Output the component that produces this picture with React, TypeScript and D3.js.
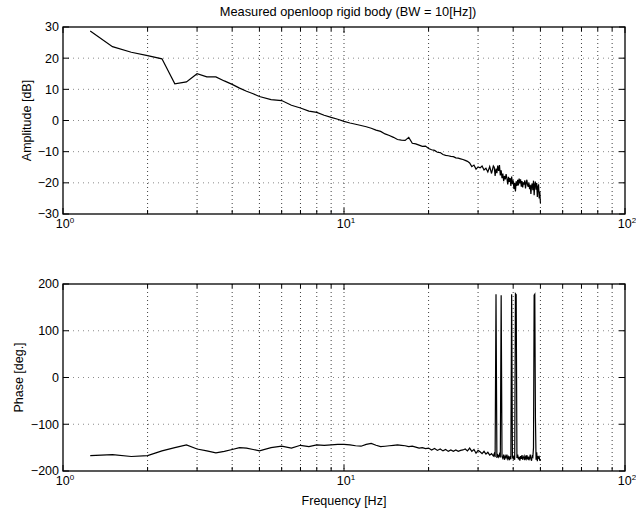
import React from 'react';
import * as d3 from 'd3';

const freqHz = [
  1.25, 1.5, 1.75, 2, 2.25, 2.5, 2.75, 3, 3.25, 3.5, 3.75, 4, 4.25, 4.5, 4.75, 5,
  5.5, 6, 6.5, 7, 7.5, 8, 8.5, 9, 9.5, 10,
  10.5, 11, 11.5, 12, 12.5, 13, 13.5, 14, 14.5, 15,
  15.5, 16, 16.5, 17, 17.5, 18, 18.5, 19, 19.5, 20,
  20.5, 21, 21.5, 22, 22.5, 23, 23.5, 24, 24.5, 25,
  25.5, 26, 26.5, 27, 27.5, 28, 28.5, 29, 29.5, 30,
  30.5, 31, 31.5, 32, 32.5, 33, 33.5, 34,
  34.25, 34.5, 34.75, 35, 35.25, 35.5, 35.75, 36, 36.25, 36.5, 36.75, 37,
  37.25, 37.5, 37.75, 38, 38.25, 38.5, 38.75, 39, 39.25, 39.5, 39.75, 40,
  40.25, 40.5, 40.75, 41, 41.25, 41.5, 41.75, 42, 42.25, 42.5, 42.75, 43,
  43.25, 43.5, 43.75, 44, 44.25, 44.5, 44.75, 45, 45.25, 45.5, 45.75, 46,
  46.25, 46.5, 46.75, 47, 47.25, 47.5, 47.75, 48, 48.25, 48.5, 48.75, 49,
  49.25, 49.5, 49.75, 50,
];

const amplitudeDb = [
  28.7, 23.7, 21.9, 20.8, 19.8, 11.8, 12.4, 15.0, 14.0, 14.0, 12.7, 11.6, 10.4, 9.4, 8.6, 7.7,
  6.7, 6.4, 4.9, 4.0, 3.0, 2.6, 1.7, 1.0, 0.4, -0.3,
  -0.8, -1.2, -1.6, -2.0, -2.5, -3.1, -3.5, -4.3, -4.8, -5.4,
  -6.1, -6.3, -6.4, -5.4, -7.3, -7.5, -7.9, -8.3, -8.2, -9.0,
  -9.4, -9.6, -10.2, -10.3, -10.9, -11.2, -11.3, -11.5, -11.6, -12.0,
  -12.1, -12.3, -12.5, -12.8, -13.1, -13.6, -14.8, -14.3, -15.6, -14.9,
  -15.2, -14.6, -15.9, -15.3, -16.5, -14.8, -17.0, -14.6,
  -15.0, -17.8, -15.4, -16.9, -14.5, -16.2, -14.3, -17.6, -16.0, -18.5, -17.0, -19.5,
  -17.8, -18.9, -17.2, -18.6, -20.5, -18.1, -19.7, -18.5, -21.0, -18.0, -20.4, -19.2,
  -22.0, -20.0, -22.8, -19.5, -21.0, -19.0, -20.8, -18.6, -20.2, -18.9, -21.2, -19.4,
  -21.5, -19.8, -20.6, -19.2, -21.8, -20.0, -19.0, -20.7, -21.3, -19.9, -22.0, -20.6,
  -23.6, -21.0, -20.2, -22.4, -19.3, -24.0, -20.5, -19.6, -22.2, -20.1, -24.5, -21.4,
  -20.5, -25.0, -22.8, -26.5,
];

const phaseDeg = [
  -167, -165, -169, -167, -157, -150, -144, -153, -157, -161, -158, -154, -150, -151, -154, -157,
  -150, -147, -151, -145, -148, -144, -145, -144, -143, -143,
  -144, -146, -147, -143, -141, -145, -148, -147, -146, -145,
  -144, -145, -146, -148, -147, -149, -151, -150, -152, -151,
  -155, -152, -156, -153, -157, -154, -158, -155, -158, -155,
  -158, -156, -155, -153, -157, -151, -158, -154, -162, -156,
  -159, -163, -158, -164, -160, -166, -163, -168,
  -163, -170, 178, -172, -166, -170, -164, -171, 176, -169, -173, -165,
  -176, -168, -172, -165, -174, -170, -177, -168, -175, 178, -170, -174,
  -167, -176, 179, 177, -172, -165, -175, -170, -178, -168, -174, -166,
  -176, -171, -168, -177, -170, -174, -166, -175, -169, -177, -172, -165,
  -174, -178, -168, -170, -150, 176, 178, -85, -176, -160, -179, -168,
  -172, -170, -178, -174,
];

const ampTicks = [-30, -20, -10, 0, 10, 20, 30];
const phaseTicks = [-200, -100, 0, 100, 200];
const decadeTicks = [1, 10, 100];
const decadeExp = ['0', '1', '2'];

const titleText = 'Measured openloop rigid body (BW = 10[Hz])';
const ampLabel = 'Amplitude [dB]';
const phaseLabel = 'Phase [deg.]';
const xLabel = 'Frequency [Hz]';

const W = 636;
const H = 512;
const LEFT = 63;
const RIGHT = 625;
const FONT = "'Liberation Sans', Arial, Helvetica, sans-serif";

const fmt = (v: number) => (v < 0 ? '\u2212' + Math.abs(v) : String(v));

function Panel({ top, bottom, domain, ticks, values, label, labelX, idp }: {
  top: number; bottom: number; domain: [number, number]; ticks: number[];
  values: number[]; label: string; labelX: number; idp: string;
}) {
  const x = d3.scaleLog().domain([1, 100]).range([LEFT, RIGHT]);
  const y = d3.scaleLinear().domain(domain).range([bottom, top]);
  const pts = freqHz.map((f, i) => [f, values[i]] as [number, number]);
  const line = d3.line<[number, number]>().x((d) => x(d[0])).y((d) => y(d[1]));
  const minor = x.ticks();
  return (
    <g>
      <defs>
        <clipPath id={idp}>
          <rect x={LEFT} y={top} width={RIGHT - LEFT} height={bottom - top} />
        </clipPath>
      </defs>
      {minor.filter((t) => t > 1 && t < 100).map((t) => (
        <line key={'vg' + t} x1={x(t)} x2={x(t)} y1={top} y2={bottom}
          stroke="#000" strokeWidth={1} strokeDasharray="1,3" opacity={0.75} />
      ))}
      {ticks.filter((t) => t > domain[0] && t < domain[1]).map((t) => (
        <line key={'hg' + t} x1={LEFT} x2={RIGHT} y1={y(t)} y2={y(t)}
          stroke="#000" strokeWidth={1} strokeDasharray="1,4" opacity={0.45} />
      ))}
      {minor.map((t) => {
        const len = decadeTicks.includes(t) ? 6 : 4;
        return (
          <g key={'xt' + t}>
            <line x1={x(t)} x2={x(t)} y1={bottom} y2={bottom - len} stroke="#000" />
            <line x1={x(t)} x2={x(t)} y1={top} y2={top + len} stroke="#000" />
          </g>
        );
      })}
      {ticks.map((t) => (
        <g key={'yt' + t}>
          <line x1={LEFT} x2={LEFT + 6} y1={y(t)} y2={y(t)} stroke="#000" />
          <line x1={RIGHT} x2={RIGHT - 6} y1={y(t)} y2={y(t)} stroke="#000" />
          <text x={LEFT - 4} y={y(t)} dy="0.35em" textAnchor="end" fontSize={12.5}
            fontFamily={FONT} fill="#000">{fmt(t)}</text>
        </g>
      ))}
      <path d={line(pts) || ''} fill="none" stroke="#000" strokeWidth={1.2}
        clipPath={`url(#${idp})`} />
      <rect x={LEFT} y={top} width={RIGHT - LEFT} height={bottom - top}
        fill="none" stroke="#000" strokeWidth={1.3} />
      {decadeTicks.map((t, i) => (
        <text key={'xl' + t} x={x(t) + 2} y={bottom + 14} textAnchor="middle"
          fontSize={12.5} fontFamily={FONT} fill="#000">
          10<tspan dy={-5} fontSize={8}>{decadeExp[i]}</tspan>
        </text>
      ))}
      <text transform={`translate(${labelX},${(top + bottom) / 2}) rotate(-90)`}
        textAnchor="middle" fontSize={12.5} fontFamily={FONT} fill="#000">{label}</text>
    </g>
  );
}

export default function App() {
  return (
    <svg width={W} height={H} style={{ position: 'absolute', left: 0, top: 0, background: '#fff' }}>
      <rect width={W} height={H} fill="#fff" />
      <text x={(LEFT + RIGHT) / 2 + 4} y={16} textAnchor="middle" fontSize={12.8}
        fontFamily={FONT} fill="#000">{titleText}</text>
      <Panel top={27} bottom={214} domain={[-30, 30]} ticks={ampTicks}
        values={amplitudeDb} label={ampLabel} labelX={31} idp="clipA" />
      <Panel top={284} bottom={471} domain={[-200, 200]} ticks={phaseTicks}
        values={phaseDeg} label={phaseLabel} labelX={23} idp="clipP" />
      <text x={(LEFT + RIGHT) / 2} y={505} textAnchor="middle" fontSize={12.5}
        fontFamily={FONT} fill="#000">{xLabel}</text>
    </svg>
  );
}
